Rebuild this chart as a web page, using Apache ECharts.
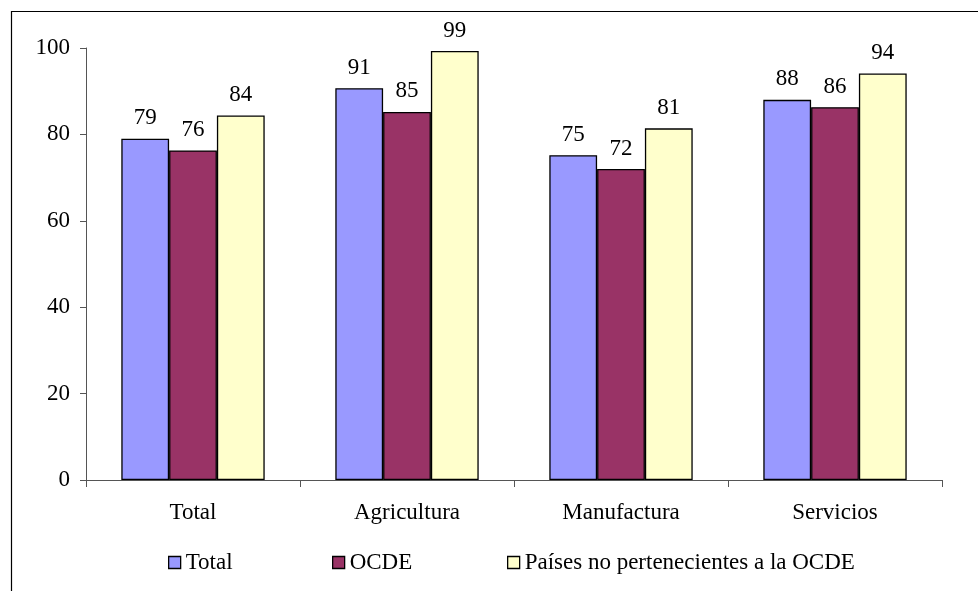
<!DOCTYPE html>
<html>
<head>
<meta charset="utf-8">
<script src="https://cdn.jsdelivr.net/npm/echarts@6/dist/echarts.min.js"></script>
<style>
html,body{margin:0;padding:0;background:#fff;}
#chart{width:978px;height:591px;}
</style>
</head>
<body>
<div id="chart"></div>
<script>
var categories = ['Total', 'Agricultura', 'Manufactura', 'Servicios'];
var seriesNames = ['Total', 'OCDE', 'Países no pertenecientes a la OCDE'];
var totalValues = [79.0, 90.7, 75.2, 88.0];
var ocdeValues = [76.3, 85.2, 72.0, 86.3];
var noOcdeValues = [84.4, 99.3, 81.4, 94.1];
var yTicks = [0, 20, 40, 60, 80, 100];

var colors = ['#9999FF', '#993366', '#FFFFCC'];
var font = '"Liberation Serif", "DejaVu Serif", serif';
var fs = 23;

function mk(name, data, color) {
  return {
    name: name,
    type: 'bar',
    data: data,
    barGap: '0%',
    barCategoryGap: '33%',
    itemStyle: { color: color, borderColor: '#000', borderWidth: 1.3 },
    label: {
      show: true, position: 'top', distance: 9,
      fontFamily: font, fontSize: fs, color: '#000',
      formatter: function (p) { return Math.round(p.value); }
    },
    emphasis: { disabled: true }
  };
}

function leg(i, left) {
  return {
    data: [seriesNames[i]],
    left: left, top: 551,
    itemWidth: 12, itemHeight: 12,
    icon: 'rect',
    itemStyle: { borderColor: '#000', borderWidth: 1.3 },
    textStyle: { fontFamily: font, fontSize: fs, color: '#000' },
    padding: 0, selectedMode: false
  };
}

var chart = echarts.init(document.getElementById('chart'), null, { renderer: 'canvas' });
chart.setOption({
  animation: false,
  backgroundColor: '#fff',
  textStyle: { fontFamily: font },
  grid: { left: 86, right: 36, top: 48, bottom: 111, containLabel: false },
  legend: [leg(0, 168), leg(1, 332), leg(2, 507)],
  xAxis: {
    type: 'category',
    data: categories,
    axisLine: { lineStyle: { color: '#555', width: 1 } },
    axisTick: { show: true, length: 7, lineStyle: { color: '#555' } },
    axisLabel: { fontFamily: font, fontSize: fs, color: '#000', margin: 21 }
  },
  yAxis: {
    type: 'value',
    min: yTicks[0], max: yTicks[yTicks.length - 1], interval: 20,
    splitLine: { show: false },
    axisLine: { show: true, lineStyle: { color: '#555', width: 1 } },
    axisTick: { show: true, length: 6, lineStyle: { color: '#555' } },
    axisLabel: { fontFamily: font, fontSize: fs, color: '#000', margin: 16 }
  },
  graphic: [{
    type: 'rect',
    shape: { x: 11.5, y: 11.5, width: 1200, height: 1200 },
    style: { fill: 'none', stroke: '#000', lineWidth: 1.2 },
    silent: true
  }],
  series: [
    mk(seriesNames[0], totalValues, colors[0]),
    mk(seriesNames[1], ocdeValues, colors[1]),
    mk(seriesNames[2], noOcdeValues, colors[2])
  ]
});
</script>
</body>
</html>
